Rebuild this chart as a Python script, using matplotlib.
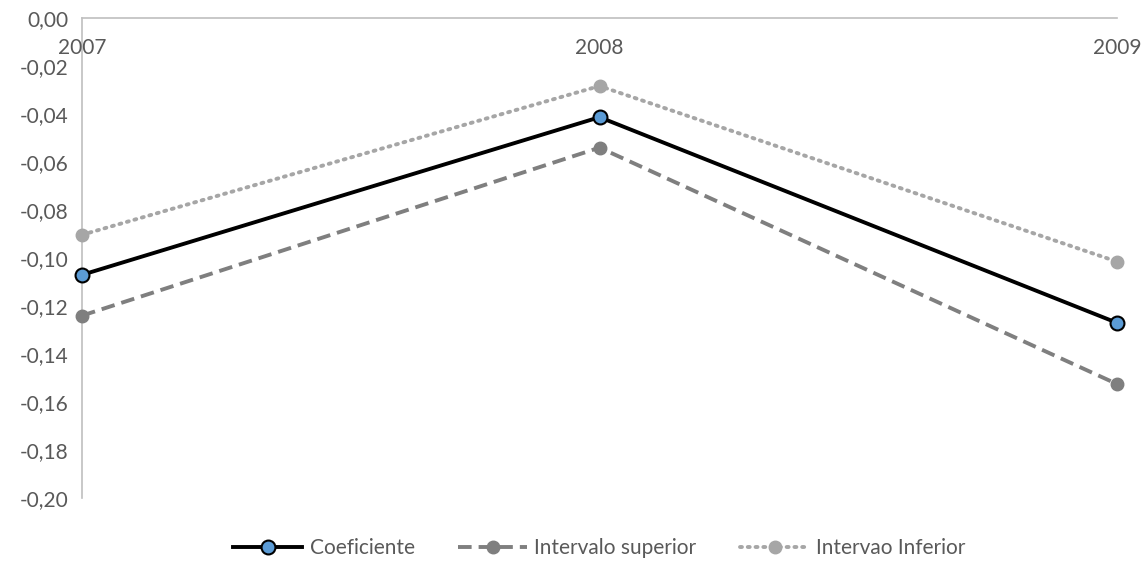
import matplotlib.pyplot as plt
from matplotlib.ticker import FuncFormatter

plt.rcParams['font.family'] = ['Lato', 'DejaVu Sans']

years = ['2007', '2008', '2009']
coeficiente = [-0.107, -0.0413, -0.127]
int_superior = [-0.124, -0.054, -0.1525]
int_inferior = [-0.0903, -0.0283, -0.1015]

txt = '#595959'
fs = 15
fig = plt.figure(figsize=(11.46, 5.65), dpi=100)
ax = fig.add_axes([0.0716, 0.1186, 0.9031, 0.8494])
x = range(len(years))

ax.plot(x, int_inferior, color='#A6A6A6', lw=2.8, ls=(0, (0.5, 1.5)),
        dash_capstyle='round', marker='o', ms=9, mfc='#A6A6A6', mec='#A6A6A6',
        label='Intervao Inferior', zorder=3, clip_on=False)
ax.plot(x, int_superior, color='#7F7F7F', lw=2.8, ls=(0, (3.5, 1.8)),
        marker='o', ms=9, mfc='#7F7F7F', mec='#7F7F7F',
        label='Intervalo superior', zorder=3, clip_on=False)
ax.plot(x, coeficiente, color='black', lw=2.8, marker='o', ms=10,
        mfc='#5B9BD5', mec='black', mew=1.5, label='Coeficiente', zorder=4,
        clip_on=False)

ax.set_xlim(0, 2)
ax.set_ylim(-0.20, 0.0)
ax.set_yticks([-0.20 + 0.02 * i for i in range(11)])
ax.yaxis.set_major_formatter(FuncFormatter(lambda v, p: f'{v:.2f}'.replace('.', ',').replace('-0,00', '0,00')))
ax.set_xticks([])
ax.tick_params(axis='y', length=0, pad=10, labelsize=fs, labelcolor=txt)

for s in ['right', 'bottom']:
    ax.spines[s].set_visible(False)
for s in ['left', 'top']:
    ax.spines[s].set_color('#BFBFBF')
    ax.spines[s].set_linewidth(1.2)

# category labels sit just under the zero line
for i, yr in enumerate(years):
    ax.text(i, -0.0125, yr, ha='center', va='center', fontsize=fs, color=txt)

h, l = ax.get_legend_handles_labels()
order = [2, 1, 0]
ax.legend([h[i] for i in order], [l[i] for i in order], loc='center',
          bbox_to_anchor=(0.5, -0.105), ncol=3, frameon=False, fontsize=fs,
          labelcolor=txt, handlelength=3.3, columnspacing=2.1, handletextpad=0.35)

fig.savefig('out.png', dpi=100)
